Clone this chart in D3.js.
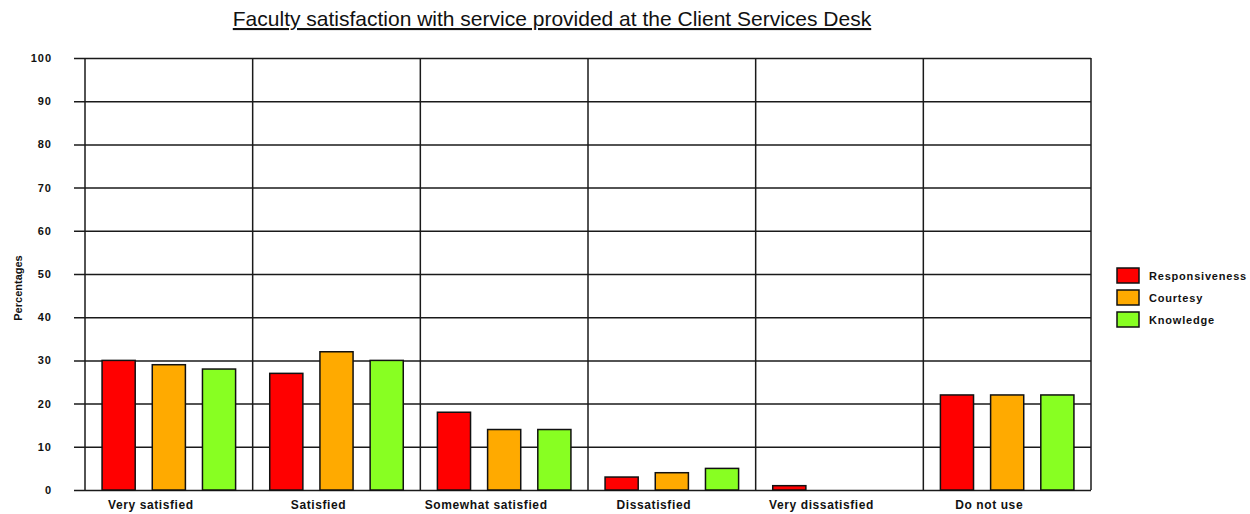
<!DOCTYPE html>
<html><head><meta charset="utf-8">
<script src="https://cdn.jsdelivr.net/npm/d3@7"></script>
<style>body{margin:0;background:#fff}svg{display:block}</style>
</head><body><svg id="c" width="1250" height="514"></svg>
<script>
const categories = ["Very satisfied","Satisfied","Somewhat satisfied","Dissatisfied","Very dissatisfied","Do not use"];
const seriesNames = ["Responsiveness","Courtesy","Knowledge"];
const responsiveness = [30,27,18,3,1,22];
const courtesy = [29,32,14,4,0,22];
const knowledge = [28,30,14,5,0,22];
const yTicks = [0,10,20,30,40,50,60,70,80,90,100];
const colors = ["#ff0000","#ffaa00","#88ff22"];
const title = "Faculty satisfaction with service provided at the Client Services Desk";
const yLabel = "Percentages";

const seriesValues = [responsiveness, courtesy, knowledge];
const svg = d3.select("#c");
const L = 85, R = 1091, T = 58, B = 490;
const x0 = d3.scaleBand().domain(categories).range([L, R]).padding(0);
const x1 = d3.scaleBand().domain(seriesNames).range([0, x0.bandwidth()]).paddingInner(0.34).paddingOuter(0.34);
const y = d3.scaleLinear().domain([0,100]).range([B, T]);
const font = "'Liberation Sans', Arial, sans-serif";

// horizontal grid + y axis
const ya = svg.append("g").attr("transform", `translate(74,0)`)
  .call(d3.axisLeft(y).tickValues(yTicks).tickSizeInner(-(R-74)).tickSizeOuter(0).tickPadding(22));
ya.select(".domain").remove();
ya.selectAll(".tick line").attr("stroke","#1a1a1a").attr("stroke-width",1.5);
ya.selectAll(".tick text").attr("font-family",font).attr("font-size",11).attr("font-weight","bold")
  .attr("letter-spacing",1).attr("fill","#111");

// vertical category separators
const bounds = categories.map(c => x0(c)).concat([R]);
svg.append("g").selectAll("line").data(bounds).join("line")
  .attr("x1", d=>d).attr("x2", d=>d).attr("y1", T).attr("y2", B)
  .attr("stroke","#1a1a1a").attr("stroke-width",1.5);

// bars
const groups = svg.append("g").selectAll("g").data(categories).join("g")
  .attr("transform", d => `translate(${x0(d)},0)`);
groups.selectAll("rect").data((c,i) => seriesNames.map((s,j) => ({s, j, v: seriesValues[j][i]})))
  .join("rect")
  .filter(d => d.v > 0)
  .attr("x", d => x1(d.s)).attr("width", x1.bandwidth())
  .attr("y", d => y(d.v)).attr("height", d => B - y(d.v))
  .attr("fill", d => colors[d.j]).attr("stroke","#111").attr("stroke-width",1.5);

// x labels
svg.append("g").selectAll("text").data(categories).join("text")
  .attr("x", d => x0(d) + x0.bandwidth()/2 - 18).attr("y", 509)
  .attr("text-anchor","middle").attr("font-family",font).attr("font-size",12).attr("font-weight","bold")
  .attr("letter-spacing",0.6).attr("fill","#111").text(d=>d);

// title
svg.append("text").attr("x", 552).attr("y", 26).attr("text-anchor","middle")
  .attr("font-family",font).attr("font-size",21).attr("fill","#111")
  .attr("text-decoration","underline").text(title);

// y label
svg.append("text").attr("transform","translate(22,288) rotate(-90)").attr("text-anchor","middle")
  .attr("font-family",font).attr("font-size",11).attr("font-weight","bold").attr("fill","#111").text(yLabel);

// legend
const lg = svg.append("g").selectAll("g").data(seriesNames).join("g")
  .attr("transform", (d,i) => `translate(1117,${268 + i*22})`);
lg.append("rect").attr("width",22).attr("height",15).attr("fill",(d,i)=>colors[i]).attr("stroke","#111").attr("stroke-width",1.5);
lg.append("text").attr("x",32).attr("y",12).attr("font-family",font).attr("font-size",11).attr("font-weight","bold")
  .attr("letter-spacing",0.8).attr("fill","#111").text(d=>d);
</script></body></html>
